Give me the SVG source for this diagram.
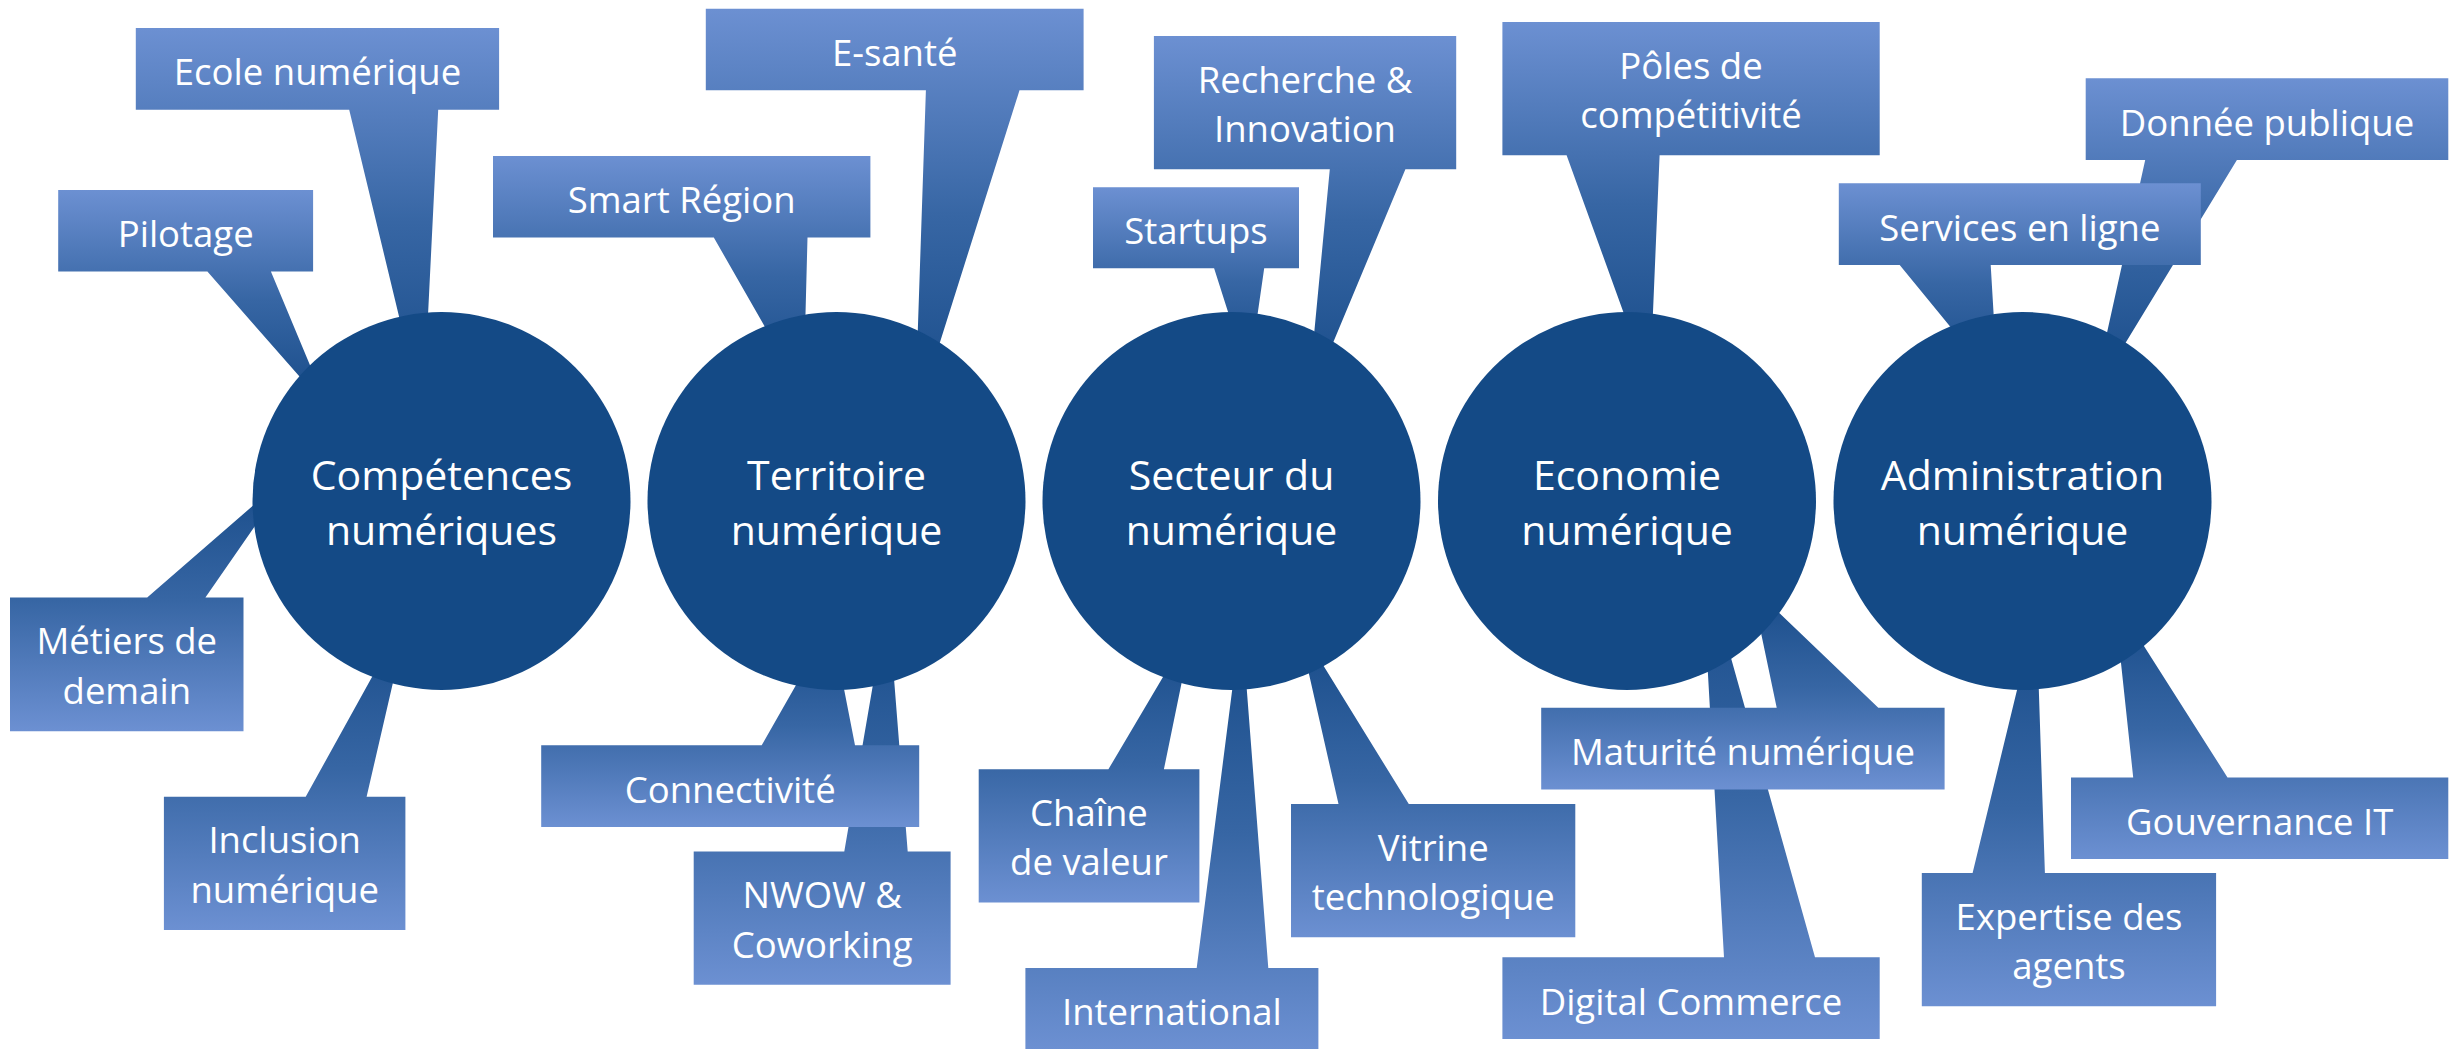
<svg xmlns="http://www.w3.org/2000/svg" width="2455" height="1049" viewBox="0 0 2455 1049">
<defs>
<linearGradient id="gTop" x1="0" y1="0" x2="0" y2="1">
<stop offset="0" stop-color="#6c90d2"/>
<stop offset="0.5" stop-color="#3766a4"/>
<stop offset="1" stop-color="#164a87"/>
</linearGradient>
<linearGradient id="gBot" x1="0" y1="1" x2="0" y2="0">
<stop offset="0" stop-color="#6c90d2"/>
<stop offset="0.5" stop-color="#3766a4"/>
<stop offset="1" stop-color="#164a87"/>
</linearGradient>
<style>
.ct{fill:url(#gTop)}
.cb{fill:url(#gBot)}
.hub{fill:#144a86}
.lbl{font-family:"Open Sans","Liberation Sans",sans-serif;font-size:36.5px;fill:#ffffff;text-anchor:middle}
.hl{font-family:"Open Sans","Liberation Sans",sans-serif;font-size:41px;fill:#ffffff;text-anchor:middle}
</style>
</defs>
<rect width="2455" height="1049" fill="#ffffff"/>
<g id="callouts">
<g id="n-ecole"><polygon class="ct" points="135.8,28.1 499.1,28.1 499.1,109.7 438.2,109.7 423,416 349.2,109.7 135.8,109.7"/><text class="lbl" x="317.5" y="85.4">Ecole numérique</text></g>
<g id="n-pilotage"><polygon class="ct" points="58.2,190 313.1,190 313.1,271.6 270.9,271.6 328.5,409.4 207.4,271.6 58.2,271.6"/><text class="lbl" x="185.7" y="247.3">Pilotage</text></g>
<g id="n-metiers"><polygon class="cb" points="10,597.4 147.2,597.4 293.7,470.3 205.4,597.4 243.5,597.4 243.5,731.2 10,731.2"/><text class="lbl" x="126.8" y="654.3">Métiers de</text><text class="lbl" x="126.8" y="703.8">demain</text></g>
<g id="n-inclusion"><polygon class="cb" points="163.9,796.8 305.7,796.8 410.2,607.9 366.6,796.8 405.4,796.8 405.4,929.9 163.9,929.9"/><text class="lbl" x="284.7" y="853.4">Inclusion</text><text class="lbl" x="284.7" y="902.9">numérique</text></g>
<g id="n-smart"><polygon class="ct" points="493,155.9 870.4,155.9 870.4,237.5 807.5,237.5 803.4,394.2 713.8,237.5 493,237.5"/><text class="lbl" x="681.7" y="213.2">Smart Région</text></g>
<g id="n-esante"><polygon class="ct" points="705.8,8.7 1083.6,8.7 1083.6,90.3 1019.5,90.3 914.7,422.3 925.9,90.3 705.8,90.3"/><text class="lbl" x="894.7" y="66">E-santé</text></g>
<g id="n-nwow"><polygon class="cb" points="693.7,851.6 844.3,851.6 887.7,598.7 907.7,851.6 950.6,851.6 950.6,984.7 693.7,984.7"/><text class="lbl" x="822.2" y="908.2">NWOW &amp;</text><text class="lbl" x="822.2" y="957.7">Coworking</text></g>
<g id="n-connectivite"><polygon class="cb" points="541.2,745.3 761.7,745.3 831.2,623.3 855,745.3 919.2,745.3 919.2,826.9 541.2,826.9"/><text class="lbl" x="730.2" y="802.6">Connectivité</text></g>
<g id="n-recherche"><polygon class="ct" points="1153.9,36.1 1456.2,36.1 1456.2,169.3 1405.4,169.3 1307.4,404.3 1329.8,169.3 1153.9,169.3"/><text class="lbl" x="1305" y="92.7">Recherche &amp;</text><text class="lbl" x="1305" y="142.2">Innovation</text></g>
<g id="n-startups"><polygon class="ct" points="1093,187.3 1299,187.3 1299,268.3 1264.2,268.3 1248.6,376.4 1214.1,268.3 1093,268.3"/><text class="lbl" x="1196" y="244.3">Startups</text></g>
<g id="n-chaine"><polygon class="cb" points="978.7,769.3 1108.4,769.3 1193.3,625.7 1163.9,769.3 1199.4,769.3 1199.4,902.4 978.7,902.4"/><text class="lbl" x="1089" y="825.9">Chaîne</text><text class="lbl" x="1089" y="875.4">de valeur</text></g>
<g id="n-international"><polygon class="cb" points="1025.4,968 1196.7,968 1241.3,618.5 1268.3,968 1318.4,968 1318.4,1049.6 1025.4,1049.6"/><text class="lbl" x="1171.9" y="1025.3">International</text></g>
<g id="n-vitrine"><polygon class="cb" points="1291,804.1 1338.5,804.1 1297.6,623.8 1408.8,804.1 1575.3,804.1 1575.3,937.3 1291,937.3"/><text class="lbl" x="1433.2" y="860.7">Vitrine</text><text class="lbl" x="1433.2" y="910.2">technologique</text></g>
<g id="n-poles"><polygon class="ct" points="1502.4,22.1 1879.7,22.1 1879.7,155.2 1659.6,155.2 1649.9,385.5 1566.6,155.2 1502.4,155.2"/><text class="lbl" x="1691" y="78.7">Pôles de</text><text class="lbl" x="1691" y="128.2">compétitivité</text></g>
<g id="n-digital"><polygon class="cb" points="1502.4,957.3 1724,957.3 1701,551 1815,957.3 1879.7,957.3 1879.7,1038.9 1502.4,1038.9"/><text class="lbl" x="1691" y="1014.6">Digital Commerce</text></g>
<g id="n-maturite"><polygon class="cb" points="1541.2,707.8 1776.7,707.8 1751.2,586.1 1878.3,707.8 1944.6,707.8 1944.6,789.4 1541.2,789.4"/><text class="lbl" x="1742.9" y="765.1">Maturité numérique</text></g>
<g id="n-donnee"><polygon class="ct" points="2085.7,78.3 2448.3,78.3 2448.3,159.9 2236.9,159.9 2092.9,396.6 2145.2,159.9 2085.7,159.9"/><text class="lbl" x="2267" y="135.6">Donnée publique</text></g>
<g id="n-services"><polygon class="ct" points="1838.8,183.3 2200.8,183.3 2200.8,264.9 1990.7,264.9 1997.8,384.7 1899.7,264.9 1838.8,264.9"/><text class="lbl" x="2019.8" y="240.6">Services en ligne</text></g>
<g id="n-gouvernance"><polygon class="cb" points="2071,777.4 2133.2,777.4 2114.2,599.3 2227.5,777.4 2448.3,777.4 2448.3,859 2071,859"/><text class="lbl" x="2259.7" y="834.7">Gouvernance IT</text></g>
<g id="n-expertise"><polygon class="cb" points="1921.8,873 1972.6,873 2036.2,611 2044.9,873 2216.1,873 2216.1,1006.2 1921.8,1006.2"/><text class="lbl" x="2069" y="929.6">Expertise des</text><text class="lbl" x="2069" y="979.1">agents</text></g>
</g>
<g id="hubs">
<g id="h-competences"><circle class="hub" cx="441.5" cy="501" r="189"/><text class="hl" x="441.5" y="490">Compétences</text><text class="hl" x="441.5" y="545">numériques</text></g>
<g id="h-territoire"><circle class="hub" cx="836.5" cy="501" r="189"/><text class="hl" x="836.5" y="490">Territoire</text><text class="hl" x="836.5" y="545">numérique</text></g>
<g id="h-secteur"><circle class="hub" cx="1231.5" cy="501" r="189"/><text class="hl" x="1231.5" y="490">Secteur du</text><text class="hl" x="1231.5" y="545">numérique</text></g>
<g id="h-economie"><circle class="hub" cx="1627" cy="501" r="189"/><text class="hl" x="1627" y="490">Economie</text><text class="hl" x="1627" y="545">numérique</text></g>
<g id="h-administration"><circle class="hub" cx="2022.5" cy="501" r="189"/><text class="hl" x="2022.5" y="490">Administration</text><text class="hl" x="2022.5" y="545">numérique</text></g>
</g>
</svg>
